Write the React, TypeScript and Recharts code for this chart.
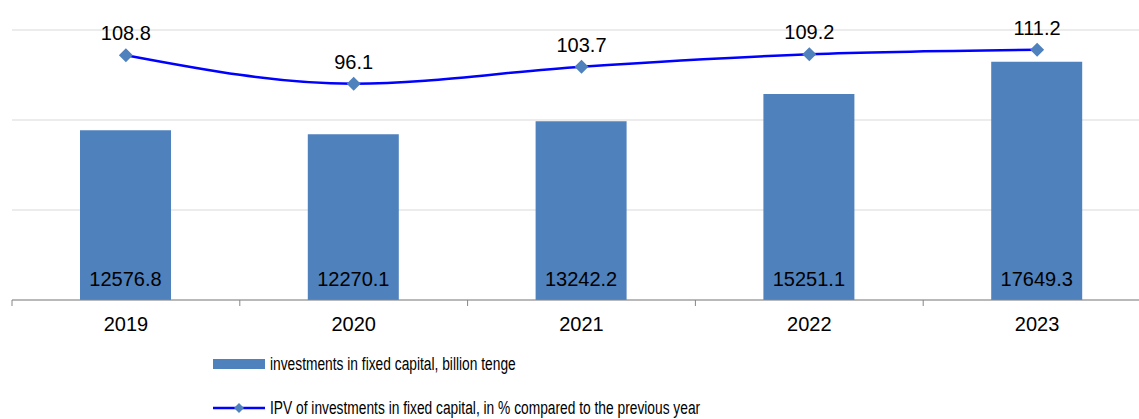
import { ComposedChart, Bar, Line, XAxis, YAxis, CartesianGrid, LabelList, Legend } from "recharts";

// values
const years = ["2019", "2020", "2021", "2022", "2023"];
const investments = [12576.8, 12270.1, 13242.2, 15251.1, 17649.3];
const ipv = [108.8, 96.1, 103.7, 109.2, 111.2];
const investTicks = [0, 20000];
const ipvTicks = [0, 40, 80, 120];
const seriesNames = [
  "investments in fixed capital, billion tenge",
  "IPV of investments in fixed capital, in % compared to the previous year",
];

const data = years.map((year, i) => ({ year, investments: investments[i], ipv: ipv[i] }));

const BAR = "#4F81BD";
const LINE = "#0000FF";
const FONT = "'Liberation Sans', Arial, sans-serif";
const TICK_SIZE = 6;
const TICK_MARGIN = 11;

const Diamond = (props: any) => {
  const { cx, cy } = props;
  if (cx == null || cy == null) return null;
  const r = 7;
  return <path d={`M${cx},${cy - r}L${cx + r},${cy}L${cx},${cy + r}L${cx - r},${cy}Z`} fill={BAR} />;
};

// year label + excel-style tick marks on the category boundaries
const YearTick = (props: any) => {
  const { x, y, payload, index, visibleTicksCount, width } = props;
  const axisY = y - TICK_SIZE - TICK_MARGIN;
  const band = width && visibleTicksCount ? width / visibleTicksCount : 0;
  return (
    <g>
      {band > 0 && (
        <line x1={x - band / 2} x2={x - band / 2} y1={axisY} y2={axisY + TICK_SIZE} stroke="#868686" />
      )}
      {band > 0 && index === visibleTicksCount - 1 && (
        <line x1={x + band / 2} x2={x + band / 2} y1={axisY} y2={axisY + TICK_SIZE} stroke="#868686" />
      )}
      <text x={x} y={y} dy="0.71em" textAnchor="middle" fill="#000" fontSize={20} fontFamily={FONT}>
        {payload.value}
      </text>
    </g>
  );
};

// legend text in the reference is a narrow face, squeeze the regular one
const narrow = { display: "inline-block", transform: "scaleX(0.765)", transformOrigin: "left center" } as const;

const LegendBox = () => (
  <div style={{ fontFamily: FONT, fontSize: 18, color: "#000", whiteSpace: "nowrap" }}>
    <div style={{ display: "flex", alignItems: "center", height: 44 }}>
      <svg width={57} height={20}>
        <rect x={0} y={5} width={52} height={10} fill={BAR} />
      </svg>
      <span style={narrow}>{seriesNames[0]}</span>
    </div>
    <div style={{ display: "flex", alignItems: "center", height: 44 }}>
      <svg width={57} height={20}>
        <line x1={0} x2={52} y1={10} y2={10} stroke={LINE} strokeWidth={2.5} />
        <path d="M26,5L31,10L26,15L21,10Z" fill={BAR} />
      </svg>
      <span style={narrow}>{seriesNames[1]}</span>
    </div>
  </div>
);

const App = () => {
  return (
    <div style={{ position: "absolute", left: 0, top: 0, width: 1139, height: 419, overflow: "hidden", background: "#fff" }}>
      <ComposedChart width={1160} height={419} data={data} margin={{ top: 30, right: 9, left: 12, bottom: 0 }}>
        <CartesianGrid yAxisId="ipv" vertical={false} stroke="#D9D9D9" strokeWidth={1.2} />
        <XAxis
          dataKey="year"
          height={119}
          axisLine={{ stroke: "#868686" }}
          tickLine={false}
          tickSize={TICK_SIZE}
          tickMargin={TICK_MARGIN}
          tick={<YearTick />}
          interval={0}
        />
        <YAxis yAxisId="inv" hide domain={[0, 20000]} ticks={investTicks} />
        <YAxis yAxisId="ipv" hide orientation="right" domain={[0, 120]} ticks={ipvTicks} />
        <Legend
          content={<LegendBox />}
          layout="horizontal"
          verticalAlign="middle"
          align="center"
          wrapperStyle={{ position: "absolute", left: 213, top: 342, width: 760 }}
        />
        <Bar yAxisId="inv" dataKey="investments" name={seriesNames[0]} fill={BAR} barSize={91} isAnimationActive={false}>
          <LabelList dataKey="investments" position="insideBottom" offset={14} fill="#000" fontSize={20} fontFamily={FONT} />
        </Bar>
        <Line
          yAxisId="ipv"
          type="monotone"
          dataKey="ipv"
          name={seriesNames[1]}
          stroke={LINE}
          strokeWidth={2.5}
          dot={<Diamond />}
          activeDot={false}
          isAnimationActive={false}
        >
          <LabelList dataKey="ipv" position="top" offset={15} fill="#000" fontSize={20} fontFamily={FONT} />
        </Line>
      </ComposedChart>
    </div>
  );
};

export default App;
